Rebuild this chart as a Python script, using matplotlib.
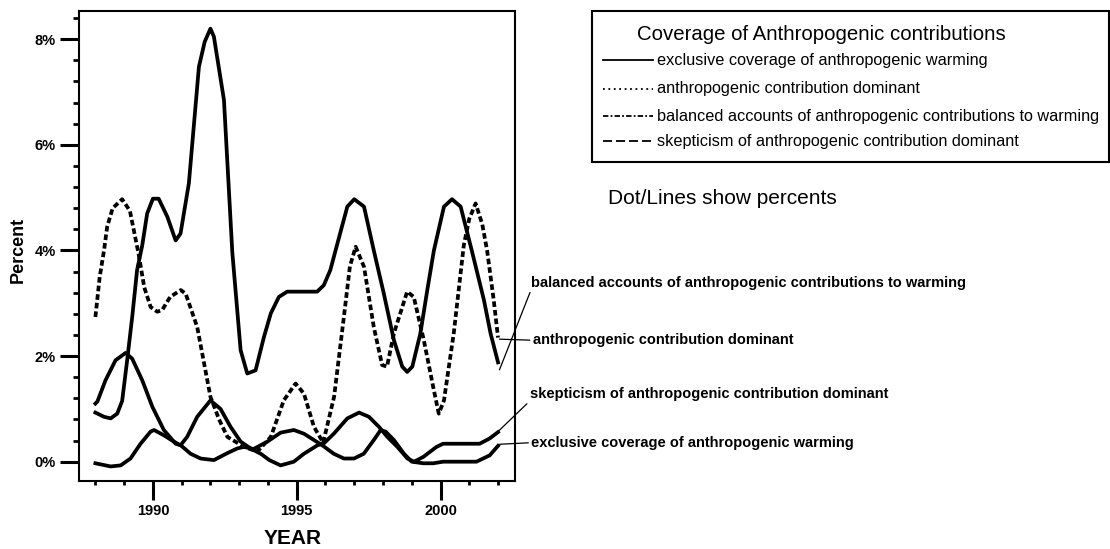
import matplotlib
matplotlib.use("Agg")
import matplotlib.pyplot as plt
from matplotlib.lines import Line2D
from matplotlib.patches import Rectangle
from matplotlib.ticker import FixedLocator

plt.rcParams['font.family'] = ['Liberation Sans', 'DejaVu Sans']

# values: (year, percent) for each curve

balanced_years = [1988.0, 1988.3, 1988.53, 1988.76, 1988.93, 1989.1, 1989.28, 1989.45,
                  1989.63, 1989.8, 1990.0, 1990.2, 1990.5, 1990.79, 1990.96, 1991.25,
                  1991.6, 1991.8, 1992.0, 1992.12, 1992.47, 1992.76, 1993.05, 1993.28,
                  1993.57, 1993.86, 1994.1, 1994.38, 1994.67, 1995.25, 1995.71, 1995.94,
                  1996.17, 1996.35, 1996.76, 1997.0, 1997.34, 1997.68, 1998.03, 1998.38,
                  1998.67, 1998.84, 1999.02, 1999.3, 1999.54, 1999.77, 2000.12, 2000.4,
                  2000.7, 2001.1, 2001.51, 2001.74, 2002.0]
balanced_pct = [0.93, 0.85, 0.82, 0.91, 1.15, 1.9, 2.74, 3.63,
                4.1, 4.7, 4.98, 4.98, 4.64, 4.19, 4.32, 5.27,
                7.48, 7.95, 8.2, 8.05, 6.85, 3.97, 2.11, 1.67,
                1.73, 2.36, 2.81, 3.12, 3.22, 3.22, 3.22, 3.34,
                3.63, 4.0, 4.83, 4.97, 4.83, 4.0, 3.18, 2.3,
                1.8, 1.7, 1.8, 2.43, 3.25, 4.0, 4.83, 4.97,
                4.83, 3.97, 3.06, 2.43, 1.88]

dominant_years = [1988.0, 1988.15, 1988.3, 1988.41, 1988.6, 1988.93, 1989.2, 1989.5,
                  1989.7, 1989.92, 1990.15, 1990.32, 1990.6, 1990.97, 1991.14, 1991.54,
                  1992.0, 1992.3, 1992.59, 1993.17, 1993.63, 1994.1, 1994.55, 1994.96,
                  1995.25, 1995.6, 1995.92, 1996.3, 1996.64, 1996.85, 1997.05, 1997.34,
                  1997.68, 1997.97, 1998.14, 1998.38, 1998.84, 1999.07, 1999.42, 1999.77,
                  1999.94, 2000.12, 2000.46, 2000.81, 2001.0, 2001.22, 2001.45, 2001.62,
                  2001.85, 2002.0]
dominant_pct = [2.74, 3.5, 4.0, 4.45, 4.8, 4.97, 4.75, 3.94,
                3.3, 2.93, 2.84, 2.87, 3.12, 3.25, 3.18, 2.55,
                1.23, 0.8, 0.47, 0.28, 0.19, 0.47, 1.16, 1.48,
                1.29, 0.66, 0.36, 1.23, 2.74, 3.7, 4.07, 3.69,
                2.55, 1.83, 1.8, 2.43, 3.22, 3.12, 2.3, 1.35,
                0.91, 1.16, 2.43, 4.1, 4.6, 4.89, 4.5, 4.0,
                3.06, 2.35]

exclusive_years = [1988.0, 1988.07, 1988.35, 1988.7, 1989.05, 1989.28, 1989.63, 1989.98,
                   1990.38, 1990.79, 1990.97, 1991.31, 1991.66, 1992.12, 1992.58, 1992.93,
                   1993.16, 1993.5, 1993.98, 1994.44, 1994.9, 1995.25, 1995.6, 1995.89,
                   1996.29, 1996.64, 1996.99, 1997.33, 1997.68, 1997.92, 1998.09, 1998.38,
                   1998.73, 1999.0, 1999.4, 1999.75, 2000.09, 2001.25, 2001.71, 2002.0]
exclusive_pct = [1.1, 1.14, 1.54, 1.92, 2.06, 1.95, 1.54, 1.04,
                 0.6, 0.34, 0.31, 0.15, 0.06, 0.03, 0.16, 0.25,
                 0.28, 0.24, 0.38, 0.55, 0.6, 0.53, 0.41, 0.31,
                 0.15, 0.06, 0.06, 0.15, 0.41, 0.6, 0.57, 0.41,
                 0.15, 0.0, -0.03, -0.03, 0.0, 0.0, 0.12, 0.3]

skeptic_years = [1988.0, 1988.53, 1988.88, 1989.22, 1989.57, 1989.92, 1990.04, 1990.38,
                 1990.73, 1990.96, 1991.19, 1991.54, 1992.0, 1992.35, 1992.7, 1993.05,
                 1993.4, 1993.75, 1994.05, 1994.44, 1994.9, 1995.25, 1995.72, 1995.95,
                 1996.29, 1996.76, 1997.17, 1997.51, 1997.86, 1998.15, 1998.5, 1998.85,
                 1999.08, 1999.4, 1999.86, 2000.09, 2001.36, 2001.71, 2002.0]
skeptic_pct = [-0.03, -0.09, -0.07, 0.06, 0.34, 0.57, 0.6, 0.5,
               0.38, 0.31, 0.47, 0.85, 1.16, 1.0, 0.66, 0.38,
               0.25, 0.15, 0.03, -0.07, 0.0, 0.15, 0.31, 0.35,
               0.53, 0.82, 0.93, 0.85, 0.66, 0.47, 0.28, 0.06,
               0.0, 0.09, 0.28, 0.34, 0.34, 0.44, 0.56]

legend_labels = ["exclusive coverage of anthropogenic warming",
                 "anthropogenic contribution dominant",
                 "balanced accounts of anthropogenic contributions to warming",
                 "skepticism of anthropogenic contribution dominant"]
legend_styles = ["-", (0, (1, 2)), (0, (3, 1.2, 1, 1.2)), (0, (5, 2.2))]

year_ticks = [1990, 1995, 2000]
pct_ticks = [0, 2, 4, 6, 8]
pct_ticklabels = ["0%", "2%", "4%", "6%", "8%"]

W, H = 1110, 549
fig = plt.figure(figsize=(W / 100, H / 100), dpi=100)
ax = fig.add_axes([79 / W, 1 - 480.7 / H, 436 / W, 470 / H])

lw = 2.7
ax.plot(balanced_years, balanced_pct, color="black", lw=lw, solid_joinstyle="round")
ax.plot(dominant_years, dominant_pct, color="black", lw=lw, dashes=(1.5, 0.8))
ax.plot(exclusive_years, exclusive_pct, color="black", lw=lw, solid_joinstyle="round")
ax.plot(skeptic_years, skeptic_pct, color="black", lw=lw, solid_joinstyle="round")

ax.set_xlim(1987.43, 2002.59)
ax.set_ylim(-0.36, 8.54)

ax.xaxis.set_major_locator(FixedLocator(year_ticks))
ax.xaxis.set_minor_locator(FixedLocator(list(range(1988, 2003))))
ax.yaxis.set_major_locator(FixedLocator(pct_ticks))
ax.yaxis.set_minor_locator(FixedLocator([i * 0.4 for i in range(0, 22)]))
ax.set_yticklabels(pct_ticklabels)
ax.tick_params(which="major", direction="out", length=13.5, width=2.2, labelsize=10.5, pad=3)
ax.tick_params(axis="x", which="minor", direction="out", length=3, width=2)
ax.tick_params(axis="y", which="minor", direction="out", length=4.5, width=2)
for lab in ax.get_xticklabels() + ax.get_yticklabels():
    lab.set_fontweight("bold")
for sp in ax.spines.values():
    sp.set_linewidth(1.5)

ax.set_xlabel("YEAR", fontsize=15, fontweight="bold", va="center")
ax.xaxis.set_label_coords(0.49, -0.124)
ax.set_ylabel("Percent", fontsize=13, fontweight="bold", va="center")
ax.yaxis.set_label_coords(-0.14, 0.49)

# end-of-line labels with leader lines
end_labels = [
    (legend_labels[2], (2002.05, 1.74), (2003.15, 3.39), (0, 0)),
    (legend_labels[1], (2002.05, 2.32), (2003.2, 2.30), (0, 0.5)),
    (legend_labels[3], (2001.98, 0.56), (2003.1, 1.28), (0, 0)),
    (legend_labels[0], (2002.05, 0.33), (2003.15, 0.36), (0, 0.5)),
]
for txt, xy, xyt, rp in end_labels:
    ax.annotate(txt, xy=xy, xytext=xyt, textcoords="data", ha="left", va="center",
                fontsize=10.5, fontweight="bold", annotation_clip=False,
                arrowprops=dict(arrowstyle="-", lw=0.9, color="black",
                                shrinkA=0, shrinkB=0, relpos=rp))

# legend box drawn by hand
fig.add_artist(Rectangle((591.7 / W, 1 - 161.7 / H), (1108.5 - 591.7) / W, (161.7 - 11) / H,
                         transform=fig.transFigure, fill=False, lw=1.5, ec="black"))
fig.text(636.7 / W, 1 - 35 / H, "Coverage of Anthropogenic contributions",
         fontsize=14.7, ha="left", va="center")
entry_y = [60, 89, 116, 141]
for lab, ls, yy in zip(legend_labels, legend_styles, entry_y):
    fig.add_artist(Line2D([603 / W, 653 / W], [1 - yy / H, 1 - yy / H],
                          transform=fig.transFigure, color="black", lw=1.3, linestyle=ls))
    fig.text(657 / W, 1 - yy / H, lab, fontsize=11.7, ha="left", va="center")

fig.text(608 / W, 1 - 198 / H, "Dot/Lines show percents", fontsize=15, ha="left", va="center")

fig.savefig("out.png", dpi=100)
